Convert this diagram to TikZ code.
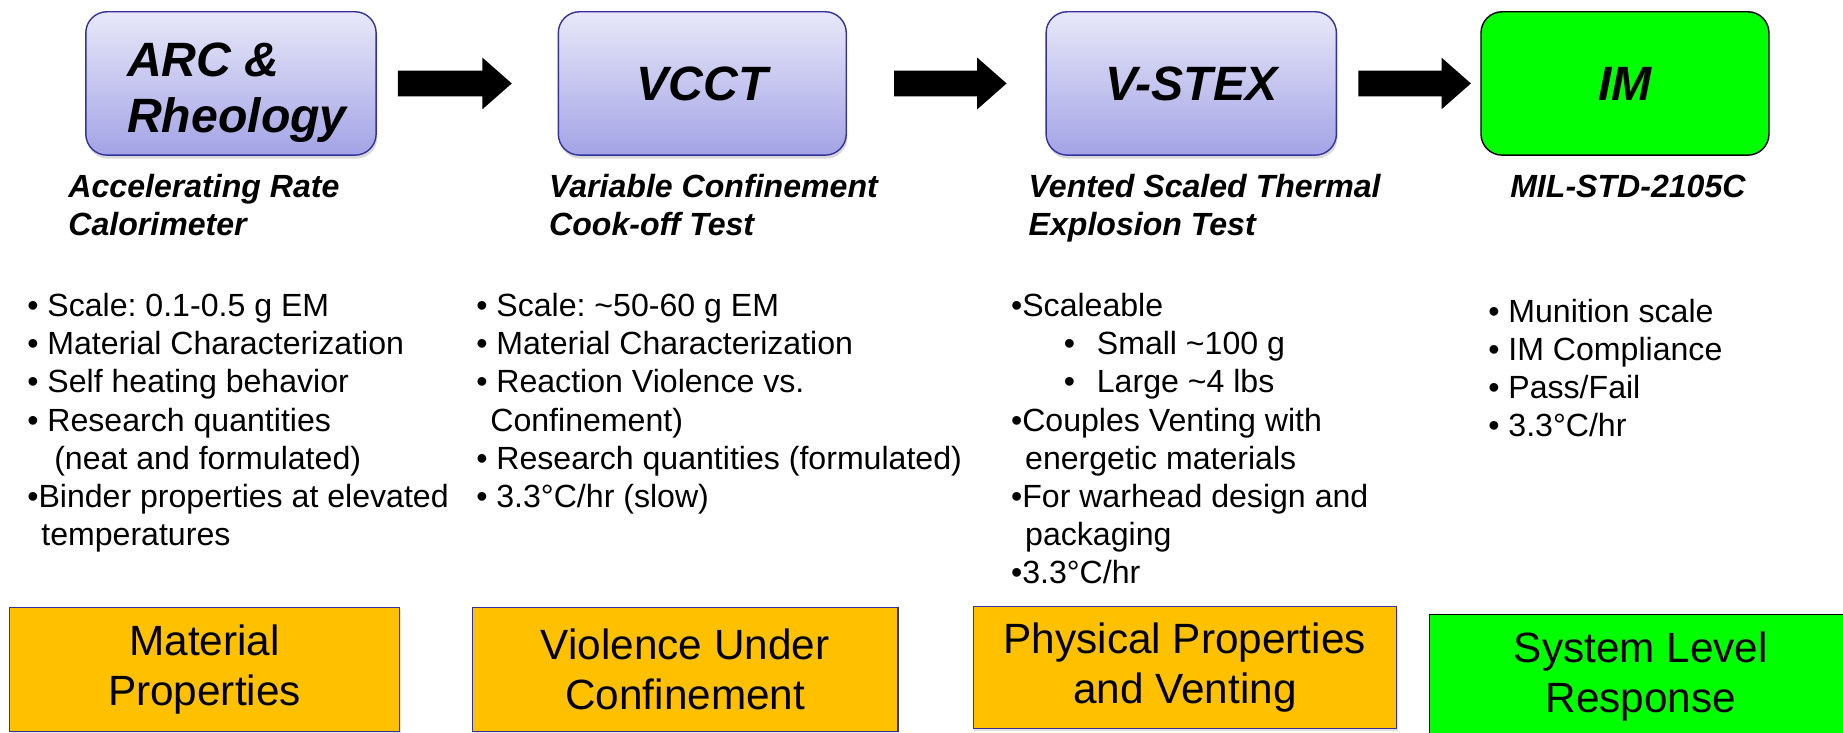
\documentclass[tikz,border=0pt]{standalone}
\usepackage{fontspec}
\setmainfont{Liberation Sans}
\usetikzlibrary{calc,shadows}
\frenchspacing
\definecolor{boxtop}{HTML}{E8E8F9}
\definecolor{boxbottom}{HTML}{A3A3E6}
\definecolor{boxedge}{HTML}{33339B}
\definecolor{resultorange}{HTML}{FFC000}
\definecolor{resultgreen}{HTML}{00FF00}
\newcommand{\blockarrow}[2]{\fill ($(#1)+(0,-11)$) -- ($(#2)+(-25,-11)$) -- ($(#2)+(-25,-22)$) -- (#2) -- ($(#2)+(-25,22)$) -- ($(#2)+(-25,11)$) -- ($(#1)+(0,11)$) -- cycle;}

\begin{document}
\begin{tikzpicture}[x=1pt,y=-1pt,
  topbox/.style={draw=boxedge, line width=1.2pt, rounded corners=18pt, top color=boxtop, bottom color=boxbottom, minimum width=247pt, minimum height=122pt, inner sep=0pt, drop shadow={shadow xshift=1pt, shadow yshift=-3pt, opacity=0.3}, font={\fontsize{41}{48}\selectfont\bfseries\itshape}},
  imbox/.style={draw=black, line width=1.2pt, rounded corners=18pt, fill=resultgreen, minimum width=245pt, minimum height=122pt, inner sep=0pt, font={\fontsize{41}{48}\selectfont\bfseries\itshape}},
  subtitle/.style={anchor=base west, inner sep=0pt, font={\fontsize{27.3}{32.4}\selectfont\bfseries\itshape}},
  bul/.style={anchor=base west, inner sep=0pt, font={\fontsize{27.3}{32.4}\selectfont}},
  resultbox/.style={draw=boxedge, line width=1pt, fill=resultorange, minimum height=105pt, inner sep=0pt, align=center, drop shadow={shadow xshift=1pt, shadow yshift=-2pt, opacity=0.25}, font={\fontsize{36}{42.5}\selectfont}}]
\useasboundingbox (0,0) rectangle (1568,623);
\clip (0,0) rectangle (1568,623);
% test stages
\node[topbox] (arc) at (196.5,71) {};
\node[anchor=north west, inner sep=0pt, align=left, font={\fontsize{41}{48}\selectfont\bfseries\itshape}] (arctitle) at (108,36) {ARC \&\\Rheology};
\node[topbox, minimum width=245pt] (vcct) at (597.5,71) {VCCT};
\node[topbox] (vstex) at (1013.5,71) {V-STEX};
\node[imbox] (im) at (1382.5,71) {IM};
\coordinate (arr1s) at ([xshift=18pt]arc.east);
\coordinate (arr1e) at ([xshift=-39pt]vcct.west);
\coordinate (arr2s) at ([xshift=40pt]vcct.east);
\coordinate (arr2e) at ([xshift=-33pt]vstex.west);
\coordinate (arr3s) at ([xshift=18pt]vstex.east);
\coordinate (arr3e) at ([xshift=-8pt]im.west);
\blockarrow{arr1s}{arr1e}
\blockarrow{arr2s}{arr2e}
\blockarrow{arr3s}{arr3e}
% full names
\node[subtitle] (arcsub1) at (58,168) {Accelerating Rate};
\node[subtitle] (arcsub2) at (58,200) {Calorimeter};
\node[subtitle] (vcctsub1) at (467,168) {Variable Confinement};
\node[subtitle] (vcctsub2) at (467,200) {Cook-off Test};
\node[subtitle] (vstexsub1) at (875,168) {Vented Scaled Thermal};
\node[subtitle] (vstexsub2) at (875,200) {Explosion Test};
\node[subtitle, anchor=base] (imsub) at (1385,168) {MIL-STD-2105C};
% ARC bullets
\node[bul] (arcb1) at (23,269.5) {• Scale: 0.1-0.5 g EM};
\node[bul] (arcb2) at (23,301.9) {• Material Characterization};
\node[bul] (arcb3) at (23,334.3) {• Self heating behavior};
\node[bul] (arcb4) at (23,366.7) {• Research quantities};
\node[bul] (arcb5) at (46,399.1) {(neat and formulated)};
\node[bul] (arcb6) at (23,431.5) {•Binder properties at elevated};
\node[bul] (arcb7) at (35,463.9) {temperatures};
% VCCT bullets
\node[bul] (vcctb1) at (405,269.5) {• Scale: \textasciitilde50-60 g EM};
\node[bul] (vcctb2) at (405,301.9) {• Material Characterization};
\node[bul] (vcctb3) at (405,334.3) {• Reaction Violence vs.};
\node[bul] (vcctb4) at (417,366.7) {Confinement)};
\node[bul] (vcctb5) at (405,399.1) {• Research quantities (formulated)};
\node[bul] (vcctb6) at (405,431.5) {• 3.3°C/hr (slow)};
% V-STEX bullets
\node[bul] (vstexb1) at (860,269.5) {•Scaleable};
\node[bul] (vstexb2) at (905,301.9) {•};
\node[bul] (vstexb2t) at (933,301.9) {Small \textasciitilde100 g};
\node[bul] (vstexb3) at (905,334.3) {•};
\node[bul] (vstexb3t) at (933,334.3) {Large \textasciitilde4 lbs};
\node[bul] (vstexb4) at (860,366.7) {•Couples Venting with};
\node[bul] (vstexb5) at (872,399.1) {energetic materials};
\node[bul] (vstexb6) at (860,431.5) {•For warhead design and};
\node[bul] (vstexb7) at (872,463.9) {packaging};
\node[bul] (vstexb8) at (860,496.3) {•3.3°C/hr};
% IM bullets
\node[bul] (imb1) at (1266,274.5) {• Munition scale};
\node[bul] (imb2) at (1266,306.9) {• IM Compliance};
\node[bul] (imb3) at (1266,339.3) {• Pass/Fail};
\node[bul] (imb4) at (1266,371.7) {• 3.3°C/hr};
% what each stage gives
\node[resultbox, minimum width=332pt] (matprop) at (174,569.5) {Material\\Properties};
\node[resultbox, minimum width=362pt] (violence) at (583,569.5) {Violence Under\\Confinement};
\node[resultbox, minimum width=360pt, minimum height=104pt] (physprop) at (1008,568) {Physical Properties\\and Venting};
\node[resultbox, draw=black, fill=resultgreen, drop shadow={opacity=0}, minimum width=360pt] (system) at (1396,575.5) {System Level\\Response};
\end{tikzpicture}
\end{document}
